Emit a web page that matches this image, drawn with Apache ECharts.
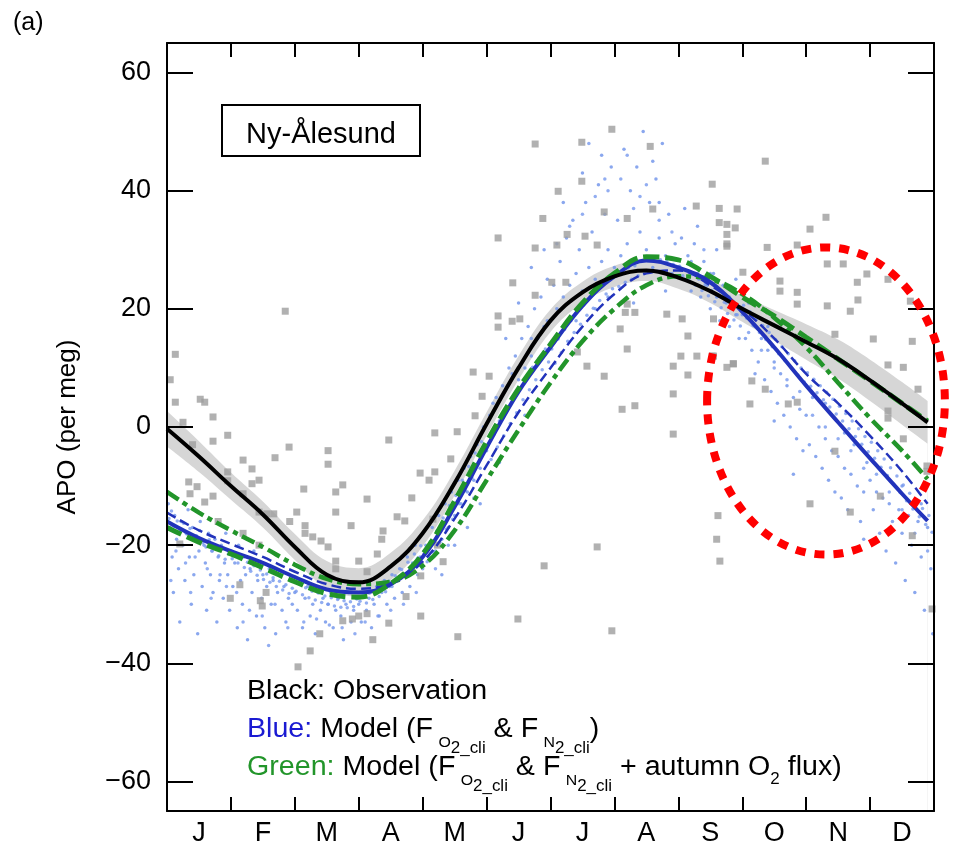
<!DOCTYPE html>
<html><head><meta charset="utf-8">
<script src="https://cdn.jsdelivr.net/npm/echarts@6/dist/echarts.min.js"></script>
<style>html,body{margin:0;padding:0;background:#fff}#c{width:955px;height:848px}</style>
</head><body><div id="c"></div>
<script>
// ---------- data ----------
const monthLabels = ['J','F','M','A','M','J','J','A','S','O','N','D'];
const monthCenters = [0.5,1.5,2.5,3.5,4.5,5.5,6.5,7.5,8.5,9.5,10.5,11.5];
const yTicks = [-60,-40,-20,0,20,40,60];

// month-of-year positions of the fitted curves (0 = 1 Jan, 12 = 31 Dec)
const mGrid = [0,0.5,1,1.5,2,2.5,3,3.5,4,4.5,5,5.5,6,6.5,7,7.5,8,8.5,9,9.5,10,10.5,11,11.5,11.9];
const obsFit      = [-0.3,-5,-10,-14.8,-20.3,-25,-26.3,-23.6,-18,-9.5,0.5,10,18,22.8,25.5,26.5,25.3,23,20,17.2,14.4,11.5,7.9,4.0,0.8];
const obsErr      = [3.0,2.6,2.3,2.2,2.2,2.3,2.4,2.3,2.2,2.1,2.0,2.0,1.9,1.8,1.8,1.8,1.9,2.0,2.2,2.6,3.0,3.3,3.5,3.6,3.6];
const blueSolid   = [-16,-18.8,-21,-23,-25.4,-27.5,-28,-26.6,-22,-13.5,-3.5,6,13.5,20.5,25.5,28.2,27,24.5,19.5,13.5,7,0.8,-5.3,-11.3,-15.9];
const blueDashed  = [-14.5,-17.5,-19.8,-22,-24.5,-26.6,-27.4,-26.4,-22.8,-15.5,-6.5,2.5,10,17,22.5,26,26.5,24,20,15,9,4,-1.5,-7.5,-13];
const greenDashed = [-17,-19.5,-21.5,-23.8,-26.2,-28.2,-28.8,-26.5,-21.5,-12.5,-2.5,6.5,14,21,26,28.8,28.3,25.5,22,18.8,15.2,11.5,7.8,4.0,1.0];
const greenDashDot= [-11,-14.5,-17.5,-20.3,-23.3,-25.7,-26.6,-26.2,-23.5,-17.5,-9,-0.5,7.5,14.5,20,24,25.5,25,22.5,18.5,13.5,7.5,1.5,-4,-8.8];

// observations (grey squares): [month, APO]
const obsPoints = [
[0.13,12.3],[0.52,4.7],[0.13,4.2],[0.59,4.2],[0.72,1.7],[0.25,0.8],[0.95,-1.4],[0.72,-2.4],[1.19,-5.6],[1.33,-7.1],[1.44,-9],[0.95,-7.6],[0.95,-9.1],[0.34,-9.3],[0.47,-10.1],[0.36,-11.3],[0.59,-12.7],[0.72,-11.7],[1.33,-9.6],[0.2,-19.8],[0.99,-29],[1.49,-30.3],[1.14,-26.7],[2.05,-40.6],[2.24,-37.9],[1.85,19.6],[0.05,8],[0.4,-3],[0.8,-16],
[2.52,-4],[2.52,-6.3],[2.64,-11],[2.64,-14.4],[2.75,-9.8],[2.88,-16.7],[2.64,-22.7],[2.64,-24],[3.0,-22.7],[3.13,-12.2],[3.13,-24.5],[2.75,-32.8],[2.9,-32.5],[3.0,-32],[3.13,-31.6],[3.22,-36],[2.39,-35],[2.14,-10.5],[2.16,-16.7],[2.16,-18],[2.28,-18.6],[2.41,-19.3],[2.52,-20.3],[1.92,-16],[2.03,-14.4],[1.67,-14.7],[1.56,-14.7],[1.44,-14.4],[1.44,-20],[1.55,-28],[1.46,-29.4],[1.19,-18],[1.19,-11.3],[1.69,-5.2],[1.91,-3.4],[3.47,-2.2],[4.19,-1],[4.54,-0.8],[4.44,-5.4],[3.96,-7.8],[4.1,-9],[4.19,-7.6],[3.83,-12],[3.6,-15.2],[3.72,-15.9],[3.38,-17.6],[3.36,-19],[3.29,-21.5],[3.74,-28.7],[3.97,-32],[3.47,-33.2],[4.32,-22.8],[3.97,-25.2],[4.23,-20],[4.16,-15.6],[4.55,-35.5],
[5.76,47.9],[6.49,48.2],[6.96,50.4],[7.56,47.5],[6.49,41.6],[6.12,39.9],[5.88,35.3],[6.84,36.4],[7.2,35.3],[7.6,36.9],[8.28,37.4],[8.64,37],[8.64,34.6],[8.76,34.3],[8.89,33.7],[8.76,30.6],[5.18,32],[5.76,30.3],[6.1,30.8],[6.26,32.6],[6.73,30.8],[5.41,24.4],[5.76,22.3],[6.02,24.5],[6.24,24.5],[7.09,16.6],[7.2,13.2],[7.32,19.4],[7.82,19.1],[8.06,18.3],[8.15,15.4],[7.92,10.3],[8.15,8.8],[8.04,12],[8.29,12],[8.53,12],[8.86,10.7],[8.76,10.1],[7.92,5.6],[7.32,3.6],[7.92,-1.2],[4.79,9.3],[5.04,8.6],[4.93,5.2],[4.82,1.9],[5.4,17.9],[5.18,18.8],[5.18,16.9],[5.52,18.3],[7.2,20.8],[6.84,8.6],[6.57,10.3],[6.42,12.7],[7.12,3],[6.54,32.3],[7.17,19.4],
[5.9,-23.5],[5.49,-32.5],[6.96,-34.5],[6.73,-20.3],[8.6,-19],[8.62,-15],
[8.76,32.6],[8.76,31],[10.06,33.5],[9.86,30.8],[9.39,30.4],[9.59,24.7],[9.59,23],[9.01,26.2],[10.33,27.6],[10.58,27.6],[10.8,24.5],[10.81,21.5],[10.95,25.9],[11.63,21.3],[11.28,25],[9.86,22.8],[10.33,20.5],[10.69,19.6],[9.86,20.8],[10.45,15.7],[11.05,14.9],[11.66,14.5],[11.28,10.5],[11.52,10.1],[8.55,18.3],[8.55,12],[8.86,10.7],[9.15,7.8],[9.36,6.4],[9.72,3.9],[9.86,4.2],[9.12,3.9],[10.45,-4.1],[10.69,-14.4],[10.06,-13],[8.65,-22.7],[11.28,2.7],[11.28,1.5],[11.52,-2],[11.89,-6.6],[11.89,-7.5],[11.16,-11.7],
[10.31,35.5],[9.36,45],[8.92,36.9],[8.53,41.1],[11.66,-18.4],[11.97,-30.8],[11.75,6.4]
];

// model samples (light blue dots): [month, APO] - scattered part of the cloud
const modelPoints = [
[0.02,-13],[0.05,-17],[0.08,-22],[0.1,-28],[0.12,-15],[0.15,-19],[0.18,-24],[0.2,-33],[0.22,-16],[0.25,-20],[0.28,-26],[0.3,-18],[0.33,-14],[0.35,-22],[0.38,-30],[0.4,-17],[0.42,-25],[0.45,-19],[0.48,-35],[0.5,-21],[0.52,-16],[0.55,-27],[0.58,-20],[0.6,-23],[0.62,-31],[0.65,-18],[0.68,-25],[0.7,-21],[0.72,-28],[0.75,-19],[0.78,-33],[0.8,-22],[0.82,-26],[0.85,-20],[0.88,-29],[0.9,-23],[0.92,-18],[0.95,-25],[0.98,-31],
[1.0,-21],[1.03,-27],[1.06,-23],[1.1,-34],[1.12,-20],[1.15,-26],[1.18,-30],[1.2,-22],[1.23,-25],[1.26,-36],[1.3,-24],[1.33,-28],[1.36,-21],[1.4,-32],[1.42,-26],[1.45,-23],[1.48,-29],[1.5,-25],[1.53,-34],[1.56,-27],[1.6,-24],[1.63,-30],[1.66,-26],[1.7,-35],[1.73,-28],[1.76,-25],[1.8,-31],[1.83,-27],[1.86,-33],[1.9,-29],[1.93,-26],[1.96,-30],
[2.0,-28],[2.04,-31],[2.08,-26],[2.12,-34],[2.16,-29],[2.2,-27],[2.24,-32],[2.28,-30],[2.32,-35],[2.36,-28],[2.4,-31],[2.44,-29],[2.48,-33],[2.52,-30],[2.56,-28],[2.6,-34],[2.64,-31],[2.68,-29],[2.72,-32],[2.76,-36],[2.8,-30],[2.84,-28],[2.88,-33],[2.92,-31],[2.96,-29],
[3.0,-30],[3.04,-33],[3.08,-28],[3.12,-31],[3.16,-29],[3.2,-34],[3.24,-30],[3.28,-27],[3.32,-32],[3.36,-28],[3.4,-26],[3.44,-30],[3.48,-27],[3.52,-25],[3.56,-29],[3.6,-26],[3.64,-24],[3.68,-28],[3.72,-25],[3.76,-22],[3.8,-27],[3.84,-23],[3.88,-20],[3.92,-25],[3.96,-22],
[4.0,-24],[4.05,-20],[4.1,-22],[4.15,-17],[4.2,-21],[4.25,-15],[4.3,-19],[4.35,-13],[4.4,-17],[4.45,-11],[4.5,-15],[4.55,-9],[4.6,-13],[4.65,-7],[4.7,-11],[4.75,-5],[4.8,-9],[4.85,-3],[4.9,-7],[4.95,0],[4.5,-20],[4.7,-17],[4.3,-25],[4.9,-13],
[5.0,-4],[5.05,2],[5.1,-1],[5.15,5],[5.2,1],[5.25,7],[5.3,3],[5.35,10],[5.4,5],[5.45,12],[5.5,8],[5.55,15],[5.6,10],[5.65,17],[5.7,12],[5.75,20],[5.8,15],[5.85,22],[5.9,17],[5.95,25],[5.3,15],[5.5,21],[5.7,27],[5.9,30],[5.2,-6],[5.6,2],
[6.0,18],[6.05,24],[6.1,20],[6.15,28],[6.2,22],[6.25,32],[6.3,24],[6.35,35],[6.4,26],[6.45,30],[6.5,23],[6.55,38],[6.6,27],[6.65,33],[6.7,25],[6.75,41],[6.8,28],[6.85,36],[6.9,30],[6.95,44],[6.2,38],[6.5,43],[6.8,46],[6.4,18],[6.7,20],[6.9,22],
[7.0,27],[7.05,35],[7.1,29],[7.15,47],[7.2,31],[7.25,40],[7.3,28],[7.35,44],[7.4,33],[7.45,50],[7.5,30],[7.55,38],[7.6,27],[7.65,42],[7.7,32],[7.75,48],[7.8,29],[7.85,36],[7.9,26],[7.95,31],[7.5,24],[7.8,23],[7.3,21],[7.6,45],[7.7,38],
[8.0,27],[8.05,32],[8.1,25],[8.15,29],[8.2,23],[8.25,31],[8.3,26],[8.35,22],[8.4,28],[8.45,24],[8.5,20],[8.55,26],[8.6,22],[8.65,18],[8.7,24],[8.75,21],[8.8,17],[8.85,23],[8.9,19],[8.95,15],[8.3,34],[8.1,37],[8.6,30],[8.9,25],
[9.0,19],[9.05,15],[9.1,21],[9.15,13],[9.2,17],[9.25,11],[9.3,15],[9.35,8],[9.4,13],[9.45,6],[9.5,11],[9.55,4],[9.6,9],[9.65,2],[9.7,7],[9.75,0],[9.8,5],[9.85,-2],[9.9,3],[9.95,-4],[9.2,9],[9.5,1],[9.8,-8],[9.4,17],
[10.0,2],[10.05,-3],[10.1,5],[10.15,-5],[10.2,0],[10.25,-7],[10.3,-2],[10.35,-9],[10.4,-4],[10.45,-11],[10.5,-5],[10.55,-12],[10.6,-7],[10.65,-14],[10.7,-8],[10.75,-3],[10.8,-10],[10.85,-16],[10.9,-11],[10.95,-6],[10.3,4],[10.6,-1],[10.9,-19],
[11.0,-9],[11.05,-14],[11.1,-11],[11.15,-18],[11.2,-12],[11.25,-21],[11.3,-13],[11.35,-16],[11.4,-23],[11.45,-14],[11.5,-18],[11.55,-26],[11.6,-15],[11.65,-20],[11.7,-28],[11.75,-16],[11.8,-22],[11.85,-31],[11.9,-17],[11.95,-24],[11.5,-10],[11.8,-13],[11.98,-35]
];
// model samples (light blue dots): dense part of the cloud, close to the model curves
const modelPointsDense = [
[0.03,-15.5],[0.07,-14.2],[0.11,-16.8],[0.16,-15.9],[0.21,-17.6],[0.26,-16.3],[0.31,-18.1],[0.36,-17.2],[0.41,-19],[0.46,-18.4],[0.51,-17.5],[0.56,-19.6],[0.61,-20.3],[0.66,-19.1],[0.71,-21],[0.76,-20.2],[0.81,-21.8],[0.86,-20.7],[0.91,-22.4],[0.96,-21.5],[0.14,-21],[0.29,-23],[0.44,-22],[0.63,-24],[0.83,-25],[0.06,-26],[0.37,-28],[0.69,-29],[0.93,-27],
[1.02,-22.3],[1.07,-21.4],[1.11,-23],[1.16,-22.2],[1.21,-23.8],[1.26,-22.9],[1.31,-24.4],[1.36,-23.5],[1.41,-25.1],[1.46,-24.2],[1.51,-25.8],[1.56,-24.9],[1.61,-26.3],[1.66,-25.5],[1.71,-27],[1.76,-26.1],[1.81,-27.6],[1.86,-26.7],[1.91,-28.2],[1.96,-27.3],[1.09,-28],[1.29,-31],[1.49,-32],[1.69,-30],[1.89,-34],[1.19,-33],[1.59,-37],
[2.02,-27.8],[2.07,-26.5],[2.12,-28.4],[2.17,-27.2],[2.22,-28.9],[2.27,-27.8],[2.32,-29.3],[2.37,-28.1],[2.42,-29.7],[2.47,-28.6],[2.52,-30],[2.57,-28.9],[2.62,-30.3],[2.67,-29.2],[2.72,-30.5],[2.77,-29.4],[2.82,-30.6],[2.87,-29.6],[2.92,-30.4],[2.97,-29.1],[2.14,-33],[2.34,-32.5],[2.54,-33.5],[2.74,-34],[2.94,-35],
[3.02,-29.5],[3.07,-28.4],[3.12,-29.8],[3.17,-28.1],[3.22,-29.2],[3.27,-27.6],[3.32,-28.7],[3.37,-26.9],[3.42,-27.9],[3.47,-26.1],[3.52,-27],[3.57,-25.2],[3.62,-26],[3.67,-24.1],[3.72,-24.9],[3.77,-22.9],[3.82,-23.6],[3.87,-21.5],[3.92,-22.2],[3.97,-20.1],[3.1,-33],[3.3,-32],[3.5,-31],[3.7,-30],[3.9,-28],
[4.02,-21.5],[4.07,-22.8],[4.12,-19.4],[4.17,-21.2],[4.22,-17.6],[4.27,-19.5],[4.32,-15.4],[4.37,-17.3],[4.42,-13.3],[4.47,-15.6],[4.52,-11.6],[4.57,-13],[4.62,-9],[4.67,-10.8],[4.72,-6.7],[4.77,-8.6],[4.82,-4.4],[4.87,-6.1],[4.92,-2.5],[4.97,-4],[4.2,-24],[4.4,-20],[4.6,-16],[4.8,-12],
[5.02,-3],[5.07,-5.5],[5.12,-1.2],[5.17,-3.4],[5.22,1],[5.27,-1.5],[5.32,2.9],[5.37,0.6],[5.42,5],[5.47,2.4],[5.52,6.6],[5.57,4.6],[5.62,8.4],[5.67,6.3],[5.72,10.1],[5.77,8],[5.82,11.6],[5.87,9.7],[5.92,13.2],[5.97,11],[5.1,4],[5.4,9],[5.7,15],[5.95,18],
[6.02,13.2],[6.07,10.8],[6.12,14.9],[6.17,12.6],[6.22,16.5],[6.27,14.5],[6.32,18],[6.37,16],[6.42,19.5],[6.47,17.4],[6.52,20.7],[6.57,18.9],[6.62,22],[6.67,20.1],[6.72,23.1],[6.77,21.4],[6.82,24.2],[6.87,22.5],[6.92,25],[6.97,23.4],[6.1,31],[6.3,34],[6.5,36],[6.7,39],[6.9,40],[6.6,48],[6.85,42],
[7.02,25.5],[7.07,23.8],[7.12,26.1],[7.17,24.5],[7.22,26.9],[7.27,25],[7.32,27.3],[7.37,25.6],[7.42,28],[7.47,26],[7.52,28.2],[7.57,26.3],[7.62,28.5],[7.67,26.4],[7.72,28.3],[7.77,26.3],[7.82,28],[7.87,25.9],[7.92,27.5],[7.97,25.6],[7.1,42],[7.3,37],[7.5,41],[7.7,35],[7.9,33],[7.2,46],[7.4,39],
[8.02,27.2],[8.07,25.6],[8.12,26.5],[8.17,24.8],[8.22,25.8],[8.27,24],[8.32,25],[8.37,23.1],[8.42,24.1],[8.47,22.2],[8.52,23.1],[8.57,21.2],[8.62,22.1],[8.67,20.2],[8.72,21.1],[8.77,19.2],[8.82,20.1],[8.87,18.1],[8.92,19],[8.97,17.1],[8.2,28],[8.5,26],[8.8,22],[8.4,30],
[9.02,20.6],[9.07,18.4],[9.12,19.5],[9.17,17.2],[9.22,18.3],[9.27,16],[9.32,17.2],[9.37,14.8],[9.42,16],[9.47,13.6],[9.52,14.8],[9.57,12.4],[9.62,13.6],[9.67,11.2],[9.72,12.4],[9.77,10],[9.82,11.2],[9.87,8.8],[9.92,10],[9.97,7.6],[9.1,16],[9.3,13],[9.5,10],[9.7,8],[9.9,6],
[10.02,9.2],[10.07,6.9],[10.12,8.1],[10.17,5.8],[10.22,7],[10.27,4.6],[10.32,5.9],[10.37,3.4],[10.42,4.7],[10.47,2.2],[10.52,3.5],[10.57,1],[10.62,2.3],[10.67,-0.3],[10.72,1],[10.77,-1.6],[10.82,-0.3],[10.87,-2.9],[10.92,-1.6],[10.97,-4.2],[10.1,2],[10.3,0],[10.5,-2],[10.7,-4],[10.9,-7],
[11.02,-2.6],[11.07,-5.3],[11.12,-4],[11.17,-6.8],[11.22,-5.4],[11.27,-8.2],[11.32,-6.9],[11.37,-9.7],[11.42,-8.3],[11.47,-11.1],[11.52,-9.8],[11.57,-12.5],[11.62,-11.2],[11.67,-13.9],[11.72,-12.5],[11.77,-15.2],[11.82,-13.8],[11.87,-16.5],[11.92,-15],[11.97,-17.8],[11.1,-8],[11.3,-11],[11.5,-14],[11.7,-18],[11.9,-21]
];

// highlighted region (data units): centre month, centre APO, radius in months, radius in APO
const highlight = {m: 10.31, v: 4.4, rm: 1.86, rv: 26};

// ---------- chart ----------
const FONT = '"Liberation Sans", Arial, Helvetica, sans-serif';
const BLUE = '#2233bb', GREEN = '#22952a';
const chart = echarts.init(document.getElementById('c'));
const pairs = arr => mGrid.map((m, i) => [m, arr[i]]);
const fmtY = v => (v < 0 ? '\u2212' + Math.abs(v) : String(v));
const frame = {show: true, onZero: false, lineStyle: {color: '#000', width: 2}};
const bandUpper = obsFit.map((v, i) => v + obsErr[i]);
const bandLower = obsFit.map((v, i) => v - obsErr[i]);

function lineSeries(arr, color, width, dash, z) {
  return {type: 'line', data: pairs(arr), symbol: 'none', smooth: 0.4, z: z, silent: true,
    lineStyle: {color: color, width: width, type: dash, cap: 'butt'}};
}

chart.setOption({
  animation: false,
  backgroundColor: '#fff',
  textStyle: {fontFamily: FONT},
  grid: {left: 167, right: 21, top: 43, bottom: 37, containLabel: false},
  xAxis: [
    {type: 'value', min: 0, max: 12, interval: 1, position: 'bottom', axisLine: frame, z: 20,
     axisTick: {show: true, inside: true, length: 14, lineStyle: {color: '#000', width: 2}},
     axisLabel: {show: true, customValues: monthCenters, formatter: v => monthLabels[Math.floor(v)],
                 fontSize: 27, color: '#000', margin: 9, fontFamily: FONT},
     splitLine: {show: false}},
    {type: 'value', min: 0, max: 12, interval: 1, position: 'top', axisLine: frame, z: 20,
     axisTick: {show: true, inside: true, length: 14, lineStyle: {color: '#000', width: 2}},
     axisLabel: {show: false}, splitLine: {show: false}}
  ],
  yAxis: [
    {type: 'value', min: -65, max: 65, position: 'left', axisLine: frame, z: 20,
     axisTick: {show: true, inside: true, length: 26, customValues: yTicks, lineStyle: {color: '#000', width: 2}},
     axisLabel: {show: true, customValues: yTicks, formatter: fmtY, fontSize: 27, color: '#000', margin: 16, fontFamily: FONT},
     splitLine: {show: false},
     name: 'APO (per meg)', nameLocation: 'middle', nameGap: 86,
     nameTextStyle: {fontSize: 26, color: '#000', fontFamily: FONT}},
    {type: 'value', min: -65, max: 65, position: 'right', axisLine: frame, z: 20,
     axisTick: {show: true, inside: true, length: 26, customValues: yTicks, lineStyle: {color: '#000', width: 2}},
     axisLabel: {show: false}, splitLine: {show: false}}
  ],
  series: [
    // uncertainty band of the observed fit: grey fill down from the upper edge, white fill down from the lower edge
    {type: 'line', data: pairs(bandUpper), symbol: 'none', smooth: 0.4, lineStyle: {opacity: 0},
     areaStyle: {color: '#d6d6d6', opacity: 1, origin: 'start'}, z: 1, silent: true},
    {type: 'line', data: pairs(bandLower), symbol: 'none', smooth: 0.4, lineStyle: {opacity: 0},
     areaStyle: {color: '#ffffff', opacity: 1, origin: 'start'}, z: 2, silent: true},
    {type: 'scatter', data: modelPoints, symbol: 'circle', symbolSize: 3.5, itemStyle: {color: '#6d91ea'}, z: 3, silent: true},
    {type: 'scatter', data: modelPointsDense, symbol: 'circle', symbolSize: 3.5, itemStyle: {color: '#7799ee'}, z: 3, silent: true},
    {type: 'scatter', data: obsPoints, symbol: 'rect', symbolSize: 7, itemStyle: {color: '#9d9d9d'}, z: 4, silent: true},
    lineSeries(blueDashed, BLUE, 2.5, [10, 5], 5),
    lineSeries(greenDashDot, GREEN, 4.5, [14, 5, 5, 5], 6),
    lineSeries(blueSolid, BLUE, 4, 'solid', 7),
    lineSeries(greenDashed, GREEN, 5, [16, 6], 8),
    lineSeries(obsFit, '#000', 4, 'solid', 9)
  ]
});

// ---------- annotations ----------
const ctx = document.createElement('canvas').getContext('2d');
function measure(t, size) { ctx.font = size + 'px ' + FONT; return ctx.measureText(t).width; }
const MAIN = 27;
function buildLine(parts, y) {
  let x = 0; const els = [];
  parts.forEach(p => {
    const size = p.size || MAIN;
    if (p.gap) x += p.gap;
    els.push({type: 'text', x: x, y: y + (p.dy || 0), silent: true, z: 25,
      style: {text: p.t, fill: p.c || '#000', font: size + 'px ' + FONT, align: 'left', verticalAlign: 'middle'}});
    x += measure(p.t, size);
  });
  return els;
}
const subO = [{t: 'O', size: 15, dy: 13, gap: 5}, {t: '2_cli', size: 16, dy: 19}];
const subN = [{t: 'N', size: 15, dy: 13, gap: 5}, {t: '2_cli', size: 16, dy: 19}];
const legendLines = [
  [{t: 'Black:', c: '#000'}, {t: ' Observation'}],
  [{t: 'Blue:', c: '#1a1ad2'}, {t: ' Model (F'}, ...subO, {t: ' & F'}, ...subN, {t: ')'}],
  [{t: 'Green:', c: GREEN}, {t: ' Model (F'}, ...subO, {t: ' & F'}, ...subN, {t: ' + autumn O'}, {t: '2', size: 16, dy: 12}, {t: ' flux)'}]
];
const legendY = [692, 730, 768];
let legendChildren = [];
legendLines.forEach((l, i) => { legendChildren = legendChildren.concat(buildLine(l, legendY[i])); });

const c0 = chart.convertToPixel({gridIndex: 0}, [highlight.m, highlight.v]);
const c1 = chart.convertToPixel({gridIndex: 0}, [highlight.m + highlight.rm, highlight.v + highlight.rv]);

chart.setOption({
  graphic: [
    {type: 'text', x: 13, y: 23, silent: true, z: 25,
     style: {text: '(a)', font: '25px ' + FONT, fill: '#000', align: 'left', verticalAlign: 'middle'}},
    {type: 'rect', shape: {x: 222, y: 105, width: 198, height: 51}, silent: true,
     style: {fill: '#fff', stroke: '#000', lineWidth: 2}, z: 20},
    {type: 'text', x: 321, y: 135, silent: true, z: 21,
     style: {text: 'Ny-\u00C5lesund', font: '29px ' + FONT, fill: '#000', align: 'center', verticalAlign: 'middle'}},
    {type: 'group', x: 247, y: 0, scaleX: 1.06, z: 25, children: legendChildren},
    {type: 'ellipse', silent: true, z: 30,
     shape: {cx: c0[0], cy: c0[1], rx: c1[0] - c0[0], ry: c0[1] - c1[1]},
     style: {fill: 'none', stroke: '#ff0000', lineWidth: 8, lineDash: [10, 9]}}
  ]
});
</script>
</body></html>
